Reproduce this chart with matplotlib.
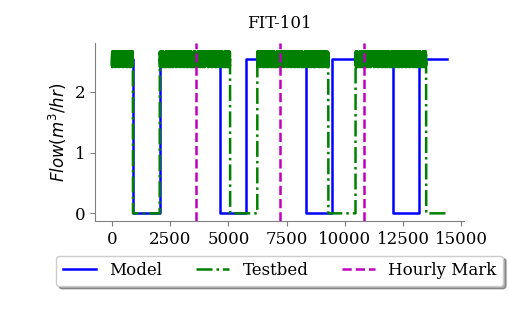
import numpy as np
import matplotlib.pyplot as plt

# FIT-101 flow, model vs testbed (seconds)
model_edges = [0, 900, 2050, 4650, 5740, 8345, 9430, 12055, 13170, 14400]
model_on = [1, 0, 1, 0, 1, 0, 1, 0, 1]
model_level = 2.55

testbed_edges = [0, 900, 2050, 5070, 6240, 9285, 10455, 13485, 14345]
testbed_on = [1, 0, 1, 0, 1, 0, 1, 0]
testbed_level = 2.54
# sensor noise (approx +-0.13)
testbed_jitter = [0.05, -0.11, 0.12, -0.03, 0.08, -0.13, 0.02, 0.10, -0.07, 0.13,
                  -0.09, 0.04, -0.12, 0.11, -0.01, 0.07, -0.10, 0.09, -0.05, 0.13,
                  -0.13, 0.03, 0.12, -0.08, 0.06, -0.02, 0.10, -0.11, 0.01, 0.08,
                  -0.06, 0.11, -0.12, 0.00, 0.09, -0.04, 0.13, -0.10, 0.05, -0.07, 0.12]

hourly_marks = [3600, 7200, 10800]

plt.rcParams['font.family'] = 'DejaVu Serif'
plt.rcParams['font.size'] = 12

fig, ax = plt.subplots(figsize=(5.09, 3.15), dpi=100)
fig.subplots_adjust(left=0.187, right=0.912, top=0.863, bottom=0.297)

# model as a step trace
mx = model_edges
my = [v * model_level for v in model_on] + [model_on[-1] * model_level]
ax.step(mx, my, where='post', color='blue', lw=1.8, label='Model')

# testbed sampled every 2 s
t = np.arange(0, testbed_edges[-1], 2)
seg = np.searchsorted(testbed_edges, t, side='right') - 1
jit = np.array(testbed_jitter)[np.arange(len(t)) % len(testbed_jitter)]
ty = np.array(testbed_on)[seg] * (testbed_level + jit)
ax.plot(t, ty, color='green', lw=1.8, linestyle='-.', label='Testbed')

for i, h in enumerate(hourly_marks):
    ax.axvline(h, color='m', lw=1.8, linestyle='--',
               label='Hourly Mark' if i == 0 else None)

ax.set_title('FIT-101', fontsize=12, pad=11)
ax.set_ylabel(r'$Flow (m^3/hr)$', fontsize=12)
ax.set_yticks([0, 1, 2])
ax.set_xticks([0, 2500, 5000, 7500, 10000, 12500, 15000])

for s in ['top', 'right']:
    ax.spines[s].set_visible(False)
for s in ['left', 'bottom']:
    ax.spines[s].set_color('gray')
ax.tick_params(colors='gray', labelcolor='black')

ax.legend(loc='upper center', bbox_to_anchor=(0.5, -0.145), ncol=3,
          shadow=True, fancybox=True, fontsize=12, framealpha=1)

fig.savefig('out.png', dpi=100)
